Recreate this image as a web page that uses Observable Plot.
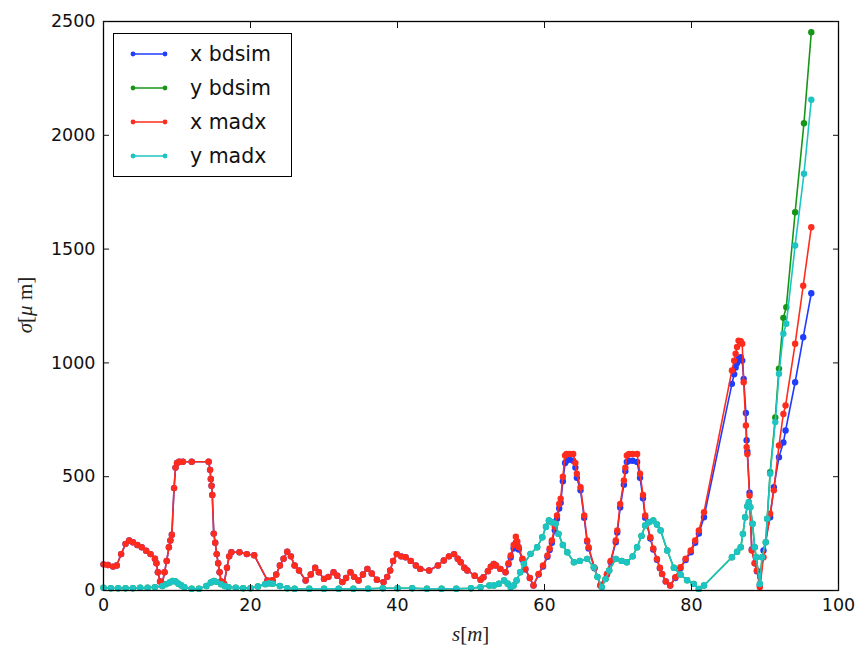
<!DOCTYPE html>
<html>
<head>
<meta charset="utf-8">
<script src="https://cdn.jsdelivr.net/npm/d3@7"></script>
<script src="https://cdn.jsdelivr.net/npm/@observablehq/plot@0.6"></script>
<style>
  html, body { margin: 0; padding: 0; background: #fff; }
  #wrap { position: relative; width: 856px; height: 648px; font-family: "DejaVu Sans", sans-serif; }
  #legend { position: absolute; left: 113px; top: 33px; width: 177px; height: 142px; border: 1.5px solid #000; background: #fff; }
  .lrow { position: absolute; left: 0; height: 30px; display: flex; align-items: center; font-size: 20.5px; color: #111; }
  .lrow svg { margin-left: 16px; margin-right: 22px; }
  .math { position: absolute; font-family: "Liberation Serif", "DejaVu Serif", serif; font-size: 21px; color: #222; white-space: nowrap; }
</style>
</head>
<body>
<div id="wrap"></div>
<script>
// ---- data ----
const seriesNames = ["x bdsim", "y bdsim", "x madx", "y madx"];
const seriesColors = ["#1f3cff", "#169616", "#ff2b1c", "#1cc4c4"];
const xTicks = [0, 20, 40, 60, 80, 100];
const yTicks = [0, 500, 1000, 1500, 2000, 2500];

// s positions [m] of the horizontal (x) samples
const sX = [0.0,0.6,1.3,1.8,2.4,3.0,3.5,4.0,4.6,5.2,5.8,6.4,7.0,7.2,7.4,7.7,8.0,8.3,8.6,8.9,9.1,9.3,9.6,9.8,10.0,10.3,10.8,12.0,14.3,14.5,14.6,14.7,14.8,15.0,15.2,15.4,15.6,15.8,16.0,16.4,16.8,17.1,17.4,18.5,19.5,20.5,22.3,23.0,23.5,24.0,24.5,25.0,25.5,26.0,26.6,27.5,28.2,28.8,29.3,30.0,30.6,31.3,31.8,32.5,33.0,33.6,34.1,34.7,35.3,35.9,36.5,37.2,38.1,38.6,39.0,39.4,39.9,40.5,41.1,41.8,42.5,43.1,44.3,45.5,46.3,47.0,47.7,48.2,48.6,49.1,49.5,50.5,51.3,51.7,52.3,52.7,53.1,53.4,54.0,54.7,55.1,55.4,55.8,56.1,56.3,56.5,57.0,57.4,58.0,58.5,59.2,59.8,60.4,60.7,61.0,61.4,61.7,62.0,62.2,62.5,62.8,63.0,63.4,63.9,64.2,64.4,64.9,65.4,65.8,66.0,66.8,67.6,68.5,69.0,69.7,69.9,70.3,70.8,71.0,71.2,71.5,72.0,72.6,73.0,73.4,73.7,74.4,74.8,75.3,75.7,76.0,76.5,77.1,77.8,78.5,79.2,79.9,80.5,81.0,81.7,85.5,85.8,86.0,86.2,86.4,86.7,86.9,87.1,87.4,87.5,87.6,87.9,88.2,88.6,88.9,89.3,89.8,90.7,91.2,91.9,92.5,92.8,94.1,95.2,96.3];
// sigma_x [um], MADX
const xMadx = [115,112,105,110,160,205,220,212,200,190,175,160,140,120,80,40,30,80,130,190,220,245,450,540,560,566,566,566,566,530,490,460,420,250,210,160,120,80,40,30,100,150,168,168,160,155,44,45,70,110,140,170,150,110,88,44,70,100,80,51,60,80,65,37,55,80,60,44,70,95,75,47,37,60,88,130,160,150,146,130,110,95,88,110,132,150,160,140,124,100,88,65,47,58,85,105,117,110,95,80,120,154,200,236,215,190,140,95,55,22,73,110,154,185,220,280,330,380,403,500,593,600,600,600,560,513,454,330,220,190,100,22,73,130,220,264,380,483,540,593,600,600,600,513,420,330,234,185,139,100,73,40,22,58,102,140,176,220,264,344,967,1010,1040,1070,1098,1095,1084,915,725,630,600,417,176,120,88,15,146,337,440,637,776,813,1084,1339,1596];
// sigma_x [um], BDSIM
const xBdsim = [115,112,105,110,160,205,220,212,200,190,175,160,140,120,80,40,30,80,130,190,220,245,450,540,560,566,566,566,566,530,490,460,420,250,210,160,120,80,40,30,100,150,168,168,160,155,44,45,70,110,140,170,150,110,88,44,70,100,80,51,60,80,65,37,55,80,60,44,70,95,75,47,37,60,88,130,160,150,146,130,110,95,88,110,132,150,160,140,124,100,88,65,47,58,85,105,117,110,95,80,115,145,185,210,200,180,135,92,55,22,70,105,148,178,210,265,315,360,385,480,560,570,575,570,540,495,440,320,215,185,98,22,70,125,212,255,365,465,525,565,570,570,565,495,405,320,228,180,135,98,72,40,22,55,98,134,168,210,250,322,908,950,980,1000,1020,1025,1010,930,780,660,610,430,180,120,85,22,176,322,454,586,650,703,915,1113,1306];

// s positions [m] of the vertical (y) samples
const sY = [0.0,1.0,2.0,3.0,4.0,5.0,6.0,7.0,8.0,8.5,9.0,9.4,9.8,10.2,10.6,11.0,12.0,13.0,14.0,14.6,15.0,15.4,16.0,16.5,17.0,18.0,19.0,20.0,21.0,22.0,22.5,23.0,24.0,25.0,26.0,28.0,30.0,32.0,34.0,36.0,38.0,40.0,42.0,44.0,46.0,48.0,50.0,51.3,52.5,53.1,53.8,54.5,55.0,55.4,55.8,56.2,56.7,57.2,58.1,59.0,59.7,60.2,60.6,61.0,61.5,61.9,62.5,63.1,64.0,64.8,65.8,66.7,67.2,67.8,68.3,68.8,69.7,70.5,71.2,72.0,72.6,73.2,73.7,74.2,74.8,75.3,75.8,76.7,77.6,78.5,79.4,80.3,81.0,81.7,85.5,86.2,86.7,87.0,87.3,87.6,87.8,88.0,88.3,88.6,88.8,89.3,89.6,90.1,90.3,90.7,91.4,91.9,92.5,92.9,94.1,95.3,96.3];
// sigma_y [um], MADX
const yMadx = [12,10,10,10,10,12,12,15,20,28,35,42,40,30,22,15,8,8,20,35,42,38,28,20,15,12,10,10,18,28,32,30,20,10,8,8,8,8,8,8,10,10,10,8,8,8,10,15,22,22,30,44,30,15,22,44,80,117,161,190,234,280,308,300,293,249,200,168,124,130,139,102,60,15,50,88,139,130,124,150,190,240,286,300,308,290,264,176,100,70,45,29,7,22,146,170,190,249,322,370,388,366,293,190,146,29,146,212,315,513,740,952,1128,1172,1516,1831,2156];
// sigma_y [um], BDSIM
const yBdsim = [12,10,10,10,10,12,12,15,20,28,35,42,40,30,22,15,8,8,20,35,42,38,28,20,15,12,10,10,18,28,32,30,20,10,8,8,8,8,8,8,10,10,10,8,8,8,10,15,22,22,30,44,30,15,22,44,80,117,161,190,234,280,308,300,293,249,200,168,124,130,139,102,60,15,50,88,139,130,124,150,190,240,286,300,308,290,264,176,100,70,45,29,7,22,146,170,190,249,322,370,388,366,293,190,146,29,146,212,315,520,760,975,1198,1245,1662,2053,2453];

// ---- build tables ----
const tXb = sX.map((s, i) => ({s, v: xBdsim[i]}));
const tXm = sX.map((s, i) => ({s, v: xMadx[i]}));
const tYb = sY.map((s, i) => ({s, v: yBdsim[i]}));
const tYm = sY.map((s, i) => ({s, v: yMadx[i]}));
const tables = [tXb, tYb, tXm, tYm];

const marks = [];
tables.forEach((t, k) => {
  marks.push(Plot.line(t, {x: "s", y: "v", stroke: seriesColors[k], strokeWidth: 1.6}));
  marks.push(Plot.dot(t, {x: "s", y: "v", fill: seriesColors[k], r: 3.2, stroke: "none"}));
});

const tickFont = {fontSize: 17.5, fontFamily: "DejaVu Sans"};
const chart = Plot.plot({
  width: 856, height: 648,
  marginLeft: 103, marginRight: 18, marginTop: 21, marginBottom: 58,
  style: {background: "#fff", color: "#111", fontFamily: "DejaVu Sans"},
  x: {domain: [0, 100]},
  y: {domain: [0, 2500]},
  marks: [
    ...marks,
    Plot.frame({stroke: "#000", strokeWidth: 1.3}),
    Plot.axisX({ticks: xTicks, tickSize: 0, tickPadding: 8, label: null, tickFormat: d => String(d), ...tickFont}),
    Plot.axisY({ticks: yTicks, tickSize: 0, tickPadding: 8, label: null, tickFormat: d => String(d), ...tickFont}),
    Plot.axisX({ticks: xTicks, anchor: "bottom", tickSize: -6, tickFormat: () => "", label: null}),
    Plot.axisX({ticks: xTicks, anchor: "top", tickSize: -6, tickFormat: () => "", label: null}),
    Plot.axisY({ticks: yTicks, anchor: "left", tickSize: -6, tickFormat: () => "", label: null}),
    Plot.axisY({ticks: yTicks, anchor: "right", tickSize: -6, tickFormat: () => "", label: null})
  ]
});

const wrap = document.getElementById("wrap");
wrap.appendChild(chart);

// legend
const legend = document.createElement("div");
legend.id = "legend";
seriesNames.forEach((name, k) => {
  const row = document.createElement("div");
  row.className = "lrow";
  row.style.top = (5 + k * 34) + "px";
  row.innerHTML = `<svg width="38" height="10"><line x1="3" y1="5" x2="35" y2="5" stroke="${seriesColors[k]}" stroke-width="1.5"/><circle cx="3" cy="5" r="2.4" fill="${seriesColors[k]}"/><circle cx="35" cy="5" r="2.4" fill="${seriesColors[k]}"/></svg><span>${name}</span>`;
  legend.appendChild(row);
});
wrap.appendChild(legend);

// axis labels
const xl = document.createElement("div");
xl.className = "math";
xl.innerHTML = '<i>s</i>[<i>m</i>]';
xl.style.left = "452px"; xl.style.top = "622px";
wrap.appendChild(xl);

const yl = document.createElement("div");
yl.className = "math";
yl.innerHTML = '<i>σ</i>[<i>μ</i> m]';
yl.style.left = "25px"; yl.style.top = "305px";
yl.style.transform = "translate(-50%, -50%) rotate(-90deg)";
wrap.appendChild(yl);
</script>
</body>
</html>
